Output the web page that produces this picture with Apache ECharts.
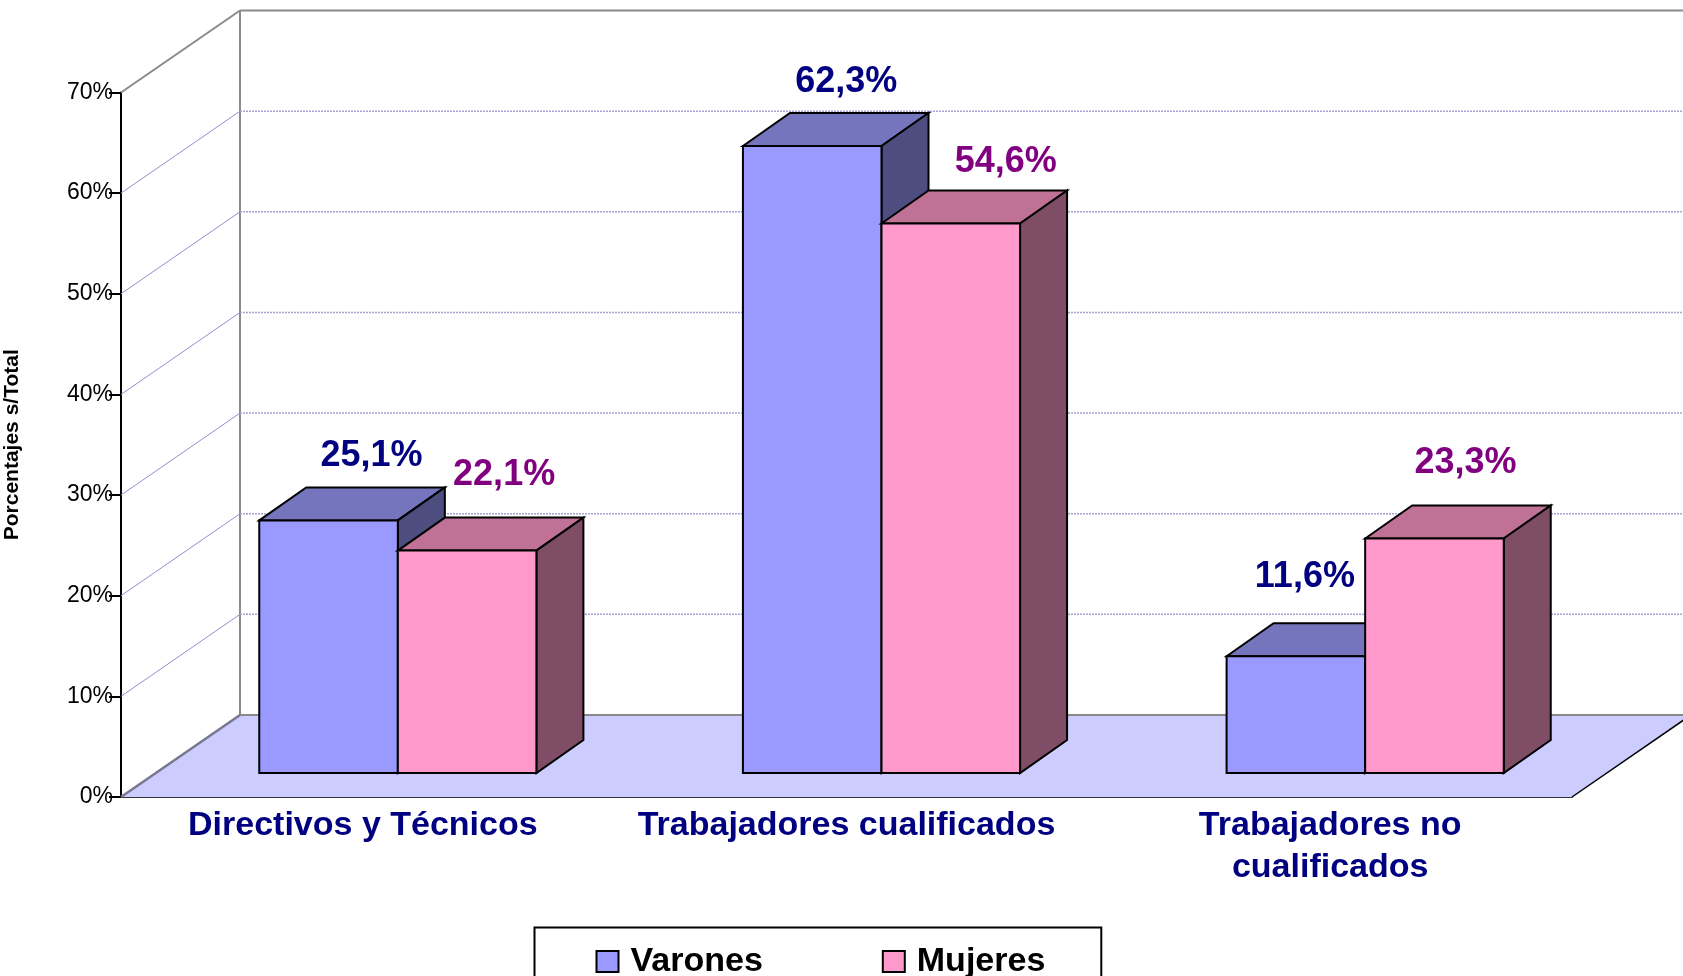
<!DOCTYPE html>
<html>
<head>
<meta charset="utf-8">
<title>Porcentajes s/Total</title>
<style>
  html, body { margin: 0; padding: 0; background: #fff; overflow: hidden; }
  #chart { width: 1683px; height: 976px; }
</style>
<script src="https://cdn.jsdelivr.net/npm/echarts@6/dist/echarts.min.js"></script>
</head>
<body>
<div id="chart"></div>
<script>
var categories = ['Directivos y Técnicos', 'Trabajadores cualificados', 'Trabajadores no\ncualificados'];
var varones = [25.1, 62.3, 11.6];
var mujeres = [22.1, 54.6, 23.3];
var yTicks = [0, 10, 20, 30, 40, 50, 60, 70];

// profundidad de la pared del fondo y de las barras (px)
var wallDx = 119, wallDy = 82;
var frontDx = 35, frontDy = 24;
var depthDx = 47, depthDy = 33;
var barRatio = 0.2865;

// las etiquetas estan colocadas a mano en el original
var varonesLabelOffset = [[43, -64], [34, -64], [9, -79]];
var mujeresLabelOffset = [[37, -76], [55, -61], [31, -75]];

function poly(points, fill, stroke, width) {
  return {
    type: 'polygon',
    shape: { points: points },
    style: { fill: fill, stroke: stroke, lineWidth: width, lineJoin: 'miter' }
  };
}

function line(x1, y1, x2, y2, color, width, dash) {
  return {
    type: 'line',
    shape: { x1: x1, y1: y1, x2: x2, y2: y2 },
    style: { stroke: color, lineWidth: width, lineDash: dash || null }
  };
}

// suelo, pared y lineas de la rejilla
function renderWall(params, api) {
  var v = api.value(0);
  var band = api.size([1, 0])[0];
  var p0 = api.coord([0, v]);
  var left = p0[0] - band / 2;
  var right = api.coord([2, v])[0] + band / 2;
  var y = p0[1];
  var children = [];
  if (v === 0) {
    children.push(poly([[left, y], [left + wallDx, y - wallDy], [right + wallDx, y - wallDy], [right, y]], '#ccccff', 'none', 0));
    children.push(line(left + wallDx, y - wallDy, right + wallDx, y - wallDy, '#8a8a8a', 2));
    children.push(line(left + wallDx, y - wallDy, left + wallDx, api.coord([0, 70])[1] - wallDy, '#8a8a8a', 2));
    children.push(line(left, y, left + wallDx, y - wallDy, '#77778f', 2.5));
    children.push(line(right, y, right + wallDx, y - wallDy, '#000', 1.5));
  } else if (v === 70) {
    children.push(line(left + wallDx, y - wallDy, right + wallDx, y - wallDy, '#8a8a8a', 2));
    children.push(line(left, y, left + wallDx, y - wallDy, '#8a8a8a', 2));
  } else {
    children.push(line(left + wallDx, y - wallDy, right + wallDx, y - wallDy, '#a4a4d4', 1.5, [2, 1]));
    children.push(line(left, y, left + wallDx, y - wallDy, '#9090d0', 1));
  }
  return { type: 'group', children: children };
}

function makeBarRenderer(side, front, top, dark, textColor, labelOffset) {
  return function (params, api) {
    var i = api.value(0);
    var val = api.value(1);
    var band = api.size([1, 0])[0];
    var w = band * barRatio;
    var topPt = api.coord([i, val]);
    var basePt = api.coord([i, 0]);
    var x0 = topPt[0] + frontDx + side * w;
    var x1 = x0 + w;
    var y0 = topPt[1];
    var y1 = basePt[1] - frontDy;
    y0 -= frontDy;
    var off = labelOffset[i];
    return {
      type: 'group',
      children: [
        poly([[x0, y0], [x0 + depthDx, y0 - depthDy], [x1 + depthDx, y0 - depthDy], [x1, y0]], top, '#000', 2),
        poly([[x1, y0], [x1 + depthDx, y0 - depthDy], [x1 + depthDx, y1 - depthDy], [x1, y1]], dark, '#000', 2),
        poly([[x0, y0], [x1, y0], [x1, y1], [x0, y1]], front, '#000', 2),
        {
          type: 'text',
          x: (x0 + x1) / 2 + off[0],
          y: y0 + off[1],
          style: {
            text: val.toFixed(1).replace('.', ',') + '%',
            fill: textColor,
            font: 'bold 36px "Liberation Sans"',
            align: 'center',
            verticalAlign: 'middle'
          }
        }
      ]
    };
  };
}

function pairs(values) {
  return values.map(function (v, i) { return [i, v]; });
}

var option = {
  animation: false,
  backgroundColor: '#fff',
  textStyle: { fontFamily: '"Liberation Sans"' },
  grid: { left: 121, top: 92.5, width: 1451, height: 704.5, outerBoundsMode: 'none' },
  legend: {
    left: 534.5,
    top: 927.5,
    padding: [17, 56, 40, 61],
    borderColor: '#000',
    borderWidth: 2,
    itemWidth: 22,
    itemHeight: 21,
    itemGap: 119,
    icon: 'rect',
    data: ['Varones', 'Mujeres'],
    textStyle: { fontSize: 34, fontWeight: 'bold', color: '#000', padding: [0, 0, 0, 7] }
  },
  xAxis: {
    type: 'category',
    data: categories,
    axisLine: { lineStyle: { color: '#333', width: 2 } },
    axisTick: { length: 11, lineStyle: { color: '#000', width: 2 } },
    axisLabel: {
      interval: 0,
      margin: 8,
      fontSize: 34,
      lineHeight: 42,
      fontWeight: 'bold',
      color: '#000080'
    }
  },
  yAxis: {
    type: 'value',
    min: 0,
    max: 70,
    interval: 10,
    name: 'Porcentajes s/Total',
    nameLocation: 'middle',
    nameGap: 98,
    nameTextStyle: { fontSize: 21, fontWeight: 'bold', color: '#000' },
    axisLine: { show: true, lineStyle: { color: '#000', width: 2 } },
    axisTick: { show: true, length: 12, lineStyle: { color: '#000', width: 2 } },
    axisLabel: { margin: 8, fontSize: 23, color: '#000', formatter: '{value}%' },
    splitLine: { show: false }
  },
  series: [{
    type: 'custom',
    name: 'pared',
    silent: true,
    renderItem: renderWall,
    encode: { y: 0 },
    data: yTicks.map(function (v) { return [v]; })
  }, {
    type: 'custom',
    name: 'Varones',
    renderItem: makeBarRenderer(-1, '#9999ff', '#7575bd', '#4d4d7f', '#000080', varonesLabelOffset),
    itemStyle: { color: '#9999ff', borderColor: '#000', borderWidth: 2 },
    encode: { x: 0, y: 1 },
    data: pairs(varones)
  }, {
    type: 'custom',
    name: 'Mujeres',
    renderItem: makeBarRenderer(0, '#ff99cc', '#bf7296', '#7f4d66', '#800080', mujeresLabelOffset),
    itemStyle: { color: '#ff99cc', borderColor: '#000', borderWidth: 2 },
    encode: { x: 0, y: 1 },
    data: pairs(mujeres)
  }]
};

var chart = echarts.init(document.getElementById('chart'));
chart.setOption(option);
</script>
</body>
</html>
